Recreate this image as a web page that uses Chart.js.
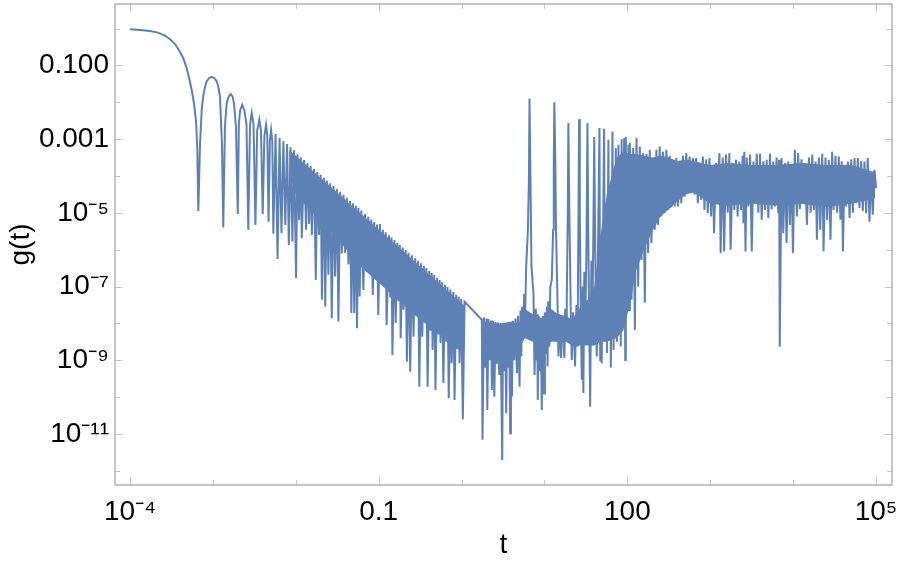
<!DOCTYPE html>
<html>
<head>
<meta charset="utf-8">
<script src="https://cdn.jsdelivr.net/npm/chart.js@4.4.1/dist/chart.umd.min.js"></script>
<style>
  html, body { margin: 0; padding: 0; background: #fff; }
  #wrap { width: 899px; height: 562px; }
</style>
</head>
<body>
<div id="wrap"><canvas id="gChart"></canvas></div>
<script>
// g(t), kept as [log10 t, log10 g] pairs

// smooth start and the first resolved oscillations
const head = [
  [-4.00,-0.02],[-3.879,-0.036],[-3.759,-0.066],[-3.662,-0.11],[-3.578,-0.19],[-3.517,-0.29],[-3.457,-0.42],
  [-3.409,-0.59],[-3.360,-0.79],[-3.318,-1.06],[-3.282,-1.39],[-3.252,-1.71],[-3.228,-2.04],[-3.203,-2.53],
  [-3.188,-3.29],[-3.176,-4.95],
  [-3.155,-3.11],[-3.135,-2.20],[-3.117,-1.84],[-3.095,-1.58],[-3.075,-1.43],[-3.045,-1.34],[-3.014,-1.31],
  [-2.984,-1.34],[-2.954,-1.43],[-2.935,-1.58],[-2.915,-1.84],[-2.891,-3.11],[-2.875,-5.40],
  [-2.855,-2.66],[-2.834,-2.02],[-2.81,-1.85],[-2.786,-1.78],[-2.762,-1.85],[-2.746,-2.02],[-2.722,-2.66],[-2.70,-5.03],
  [-2.687,-2.6],[-2.672,-2.22],[-2.646,-2.07],[-2.62,-2.22],[-2.595,-2.6],[-2.573,-5.46],
  [-2.552,-2.59],[-2.532,-2.29],[-2.51,-2.59],[-2.487,-5.33],
  [-2.466,-2.77],[-2.44,-2.47],[-2.42,-2.77],[-2.399,-5.03],
  [-2.379,-2.91],[-2.359,-2.61],[-2.344,-2.91],[-2.329,-5.24],
  [-2.313,-3.05],[-2.298,-2.75],[-2.284,-3.05],[-2.271,-5.57],
  [-2.244,-2.86],[-2.220,-6.25],[-2.196,-2.96],[-2.173,-5.55],[-2.150,-3.05],[-2.127,-5.33],
  [-2.105,-3.13],[-2.084,-5.87],[-2.063,-3.22],[-2.041,-5.78],[-2.021,-3.30],[-1.997,-6.77]
];

// dense decaying band up to t ~ 1
const decay = [
  [-1.98,-3.41],[-1.96,-5.2],[-1.94,-3.49],[-1.928,-5.69],[-1.90,-3.57],[-1.876,-5.46],[-1.86,-3.65],[-1.84,-5.3],
  [-1.82,-3.73],[-1.807,-5.60],[-1.78,-3.81],[-1.759,-6.82],[-1.74,-3.89],[-1.72,-5.6],[-1.70,-3.97],[-1.685,-7.36],
  [-1.66,-4.05],[-1.645,-7.54],[-1.625,-4.12],[-1.607,-6.68],[-1.585,-4.20],[-1.566,-7.86],[-1.545,-4.27],[-1.526,-6.73],
  [-1.505,-4.35],[-1.486,-7.95],[-1.465,-4.43],[-1.445,-6.1],[-1.425,-4.51],[-1.405,-6.09],[-1.385,-4.59],[-1.365,-6.4],
  [-1.345,-4.67],[-1.33,-7.72],[-1.31,-4.74],[-1.295,-7.72],[-1.275,-4.81],[-1.262,-8.13],[-1.245,-4.87],[-1.23,-7.27],
  [-1.21,-4.94],[-1.185,-7.09],[-1.165,-5.03],[-1.145,-6.6],[-1.125,-5.11],[-1.105,-6.55],[-1.09,-5.18],[-1.071,-7.23],
  [-1.055,-5.25],[-1.035,-6.8],[-1.02,-5.32],[-1.005,-7.77],[-0.985,-5.30],[-0.965,-6.9],[-0.95,-5.46],[-0.93,-7.0],
  [-0.915,-5.53],[-0.905,-8.04],[-0.875,-5.61],[-0.86,-7.3],[-0.845,-5.67],[-0.835,-8.86],[-0.81,-5.74],[-0.795,-7.99],
  [-0.775,-5.81],[-0.76,-7.4],[-0.745,-5.87],[-0.735,-8.40],[-0.71,-5.94],[-0.70,-7.63],[-0.675,-6.01],[-0.66,-9.04],
  [-0.64,-6.08],[-0.62,-9.31],[-0.60,-6.15],[-0.58,-8.36],[-0.56,-6.23],[-0.545,-7.8],[-0.525,-6.30],[-0.51,-9.72],
  [-0.49,-6.37],[-0.475,-8.36],[-0.455,-6.44],[-0.44,-7.9],[-0.425,-6.50],[-0.41,-9.72],[-0.39,-6.57],[-0.375,-8.2],
  [-0.36,-6.63],[-0.35,-8.72],[-0.33,-6.69],[-0.315,-9.81],[-0.295,-6.76],[-0.28,-8.3],[-0.265,-6.82],[-0.255,-8.54],
  [-0.235,-6.88],[-0.22,-9.62],[-0.20,-6.95],[-0.185,-8.5],[-0.17,-7.01],[-0.155,-10.03],[-0.135,-7.08],[-0.12,-9.08],
  [-0.10,-7.15],[-0.085,-10.08],[-0.065,-7.22],[-0.05,-8.7],[-0.035,-7.28],[-0.025,-9.08],[-0.005,-7.34],[0.015,-10.6],
  [0.036,-7.41],[0.244,-7.90]
];

// minimum region and the sharp revival peaks
const revival = [
  [0.252,-11.16],[0.27,-7.84],[0.285,-9.2],[0.30,-7.86],[0.31,-10.35],[0.325,-7.88],[0.34,-9.0],[0.355,-7.92],
  [0.365,-9.81],[0.38,-7.94],[0.395,-9.99],[0.41,-7.96],[0.425,-9.1],[0.44,-7.97],[0.455,-9.4],[0.47,-7.99],
  [0.49,-11.71],[0.50,-7.99],[0.515,-9.3],[0.525,-7.98],[0.538,-10.44],[0.55,-7.97],[0.565,-9.2],[0.575,-7.96],
  [0.586,-10.98],[0.595,-7.95],[0.607,-9.99],[0.62,-7.93],[0.635,-9.0],[0.65,-7.87],[0.667,-9.35],[0.68,-7.80],
  [0.699,-9.72],[0.71,-7.65],[0.72,-8.9],[0.73,-7.55],[0.74,-8.36],[0.755,-7.2],[0.765,-7.9],
  [0.779,-6.46],[0.80,-5.46],[0.812,-4.10],[0.819,-1.90],[0.831,-4.10],[0.843,-6.46],[0.867,-7.18],
  [0.88,-9.4],[0.895,-7.6],[0.905,-9.0],[0.912,-7.75],[0.919,-10.08],[0.93,-7.8],[0.945,-9.3],[0.955,-7.85],
  [0.967,-10.35],[0.98,-7.8],[0.995,-9.90],[1.005,-7.7],[1.02,-8.8],[1.03,-7.55],[1.037,-9.17],[1.045,-7.4],
  [1.058,-8.63],[1.07,-7.0],
  [1.088,-6.82],[1.104,-5.46],[1.112,-3.64],[1.119,-2.00],[1.131,-3.64],[1.139,-5.46],[1.155,-7.17],
  [1.168,-8.90],[1.18,-7.75],[1.20,-8.94],[1.215,-7.8],[1.24,-8.94],[1.25,-7.6],[1.26,-8.2],
  [1.269,-7.27],[1.281,-5.0],[1.288,-2.56],[1.300,-5.0],[1.317,-7.71],
  [1.329,-8.99],[1.345,-7.7],[1.369,-9.17],[1.385,-7.5],[1.395,-8.6],
  [1.403,-7.09],[1.41,-5.0],[1.417,-2.46],[1.426,-5.0],[1.436,-7.36],
  [1.45,-9.53],[1.46,-7.0],[1.469,-9.89],[1.48,-6.6],[1.49,-8.5],
  [1.506,-6.0],[1.518,-2.56],[1.530,-6.0],
  [1.551,-10.26],[1.565,-6.3],[1.575,-8.6],
  [1.587,-6.0],[1.600,-2.94],[1.612,-6.0],
  [1.631,-8.90],[1.645,-6.0],
  [1.663,-2.70],[1.672,-9.0],[1.68,-5.6],[1.69,-9.08],
  [1.719,-2.72],[1.73,-8.4],[1.745,-5.2],[1.753,-8.8],
  [1.771,-3.02],[1.78,-7.9],[1.79,-4.8],[1.80,-9.2],
  [1.82,-2.79],[1.833,-8.72],[1.845,-4.5],[1.852,-8.0],
  [1.86,-3.24],[1.875,-8.5],
  [1.892,-3.15],[1.903,-8.0],[1.914,-4.0],[1.92,-8.63],
  [1.93,-3.00],[1.945,-7.6],[1.961,-2.97],[1.974,-8.99],[1.981,-2.94],[1.995,-7.2],[2.013,-3.15],[2.02,-7.64]
];

// noisy plateau out to t = 10^5
const plateau = [
  [2.03,-3.10],[2.05,-7.36],[2.07,-3.24],[2.09,-8.18],[2.11,-2.97],[2.13,-7.00],[2.15,-3.20],[2.17,-6.28],
  [2.19,-3.38],[2.21,-7.44],[2.23,-3.40],[2.25,-6.09],[2.27,-3.29],[2.29,-5.82],[2.31,-3.56],[2.33,-5.46],
  [2.35,-3.29],[2.37,-5.33],[2.39,-3.20],[2.41,-5.10],[2.43,-3.34],[2.45,-5.00],[2.47,-3.29],[2.49,-4.92],
  [2.51,-3.45],[2.53,-4.85],[2.55,-3.56],[2.57,-4.83],[2.59,-3.51],[2.61,-4.83],[2.63,-3.61],[2.65,-4.74],
  [2.67,-3.45],[2.69,-4.56],[2.71,-3.38],[2.73,-4.37],[2.75,-3.47],[2.77,-4.45],[2.79,-3.51],[2.81,-4.51],
  [2.83,-3.51],[2.85,-4.74],[2.87,-3.83],[2.89,-4.65],[2.91,-3.47],[2.93,-4.92],[2.95,-3.55],[2.97,-5.01],
  [2.99,-3.51],[3.01,-5.10],[3.03,-3.70],[3.045,-5.55],[3.07,-3.65],[3.09,-4.65],[3.11,-3.38],[3.125,-6.09],
  [3.15,-3.50],[3.167,-6.05],[3.19,-3.42],[3.21,-5.00],[3.23,-3.38],[3.245,-6.00],[3.27,-3.65],[3.29,-4.92],
  [3.31,-3.56],[3.33,-5.10],[3.35,-3.61],[3.37,-4.92],[3.39,-3.45],[3.40,-5.28],[3.41,-3.34],[3.425,-6.05],
  [3.44,-3.50],[3.46,-4.83],[3.48,-3.42],[3.50,-6.05],[3.52,-3.61],[3.54,-4.56],[3.56,-3.40],[3.58,-5.00],
  [3.60,-3.40],[3.62,-5.19],[3.64,-3.60],[3.66,-4.92],[3.68,-3.56],[3.70,-5.14],[3.72,-3.40],[3.74,-4.90],
  [3.76,-3.61],[3.78,-4.83],[3.80,-3.50],[3.82,-5.01],[3.83,-3.56],[3.838,-8.63],[3.86,-3.51],[3.88,-5.55],
  [3.90,-3.65],[3.92,-5.82],[3.94,-3.61],[3.96,-5.33],[3.98,-3.79],[3.997,-6.09],[4.02,-3.29],[4.045,-5.10],
  [4.06,-3.38],[4.08,-4.90],[4.10,-3.55],[4.12,-4.74],[4.14,-3.65],[4.166,-5.33],[4.19,-3.50],[4.21,-5.00],
  [4.23,-3.42],[4.25,-4.92],[4.27,-3.61],[4.286,-5.73],[4.31,-3.50],[4.326,-5.46],[4.35,-3.40],[4.366,-6.05],
  [4.39,-3.50],[4.41,-5.20],[4.43,-3.56],[4.45,-5.73],[4.47,-3.34],[4.487,-4.92],[4.51,-3.45],[4.53,-5.00],
  [4.55,-3.47],[4.57,-5.19],[4.585,-3.60],[4.60,-6.05],[4.62,-3.79],[4.635,-4.83],[4.66,-3.61],[4.68,-5.14],
  [4.70,-3.55],[4.72,-5.00],[4.74,-3.51],[4.76,-4.74],[4.78,-3.51],[4.80,-4.87],[4.82,-3.60],[4.84,-4.95],
  [4.86,-3.61],[4.88,-5.01],[4.90,-3.51],[4.92,-5.24],[4.94,-3.92],[4.96,-5.05],[4.98,-3.83],[5.00,-4.33]
];

// where the oscillation is too fast to resolve the curve reads as a solid band:
// [log10 t, log10 g at top of band, log10 g at bottom of band]
const decayBand = [
  [-2.08,-3.30,-3.9],[-2.0,-3.45,-4.5],[-1.8,-3.85,-5.0],[-1.5,-4.45,-5.7],[-1.2,-5.05,-6.5],
  [-1.0,-5.45,-6.9],[-0.75,-5.95,-7.4],[-0.5,-6.45,-7.9],[-0.25,-6.95,-8.3],[0.0,-7.45,-8.7],[0.03,-7.50,-8.7]
];
const lateBand = [
  [0.25,-7.95,-8.6],[0.4,-8.0,-8.9],[0.55,-8.05,-8.9],[0.70,-7.95,-8.7],[0.76,-7.6,-8.4],
  [0.86,-7.75,-8.5],[1.0,-7.9,-8.7],[1.08,-7.6,-8.5],[1.16,-7.75,-8.5],[1.26,-7.8,-8.5],[1.33,-7.9,-8.6],
  [1.45,-7.5,-8.6],[1.55,-7.3,-8.6],[1.60,-7.0,-8.6],[1.67,-5.7,-8.5],[1.75,-4.5,-8.5],[1.87,-3.5,-8.4],
  [1.95,-3.35,-8.2],[2.05,-3.4,-7.3],[2.1,-3.4,-6.6],[2.2,-3.45,-6.0],[2.3,-3.5,-5.5],[2.4,-3.45,-5.1],
  [2.5,-3.5,-4.9],[2.6,-3.6,-4.7],[2.7,-3.55,-4.5],[2.8,-3.6,-4.45],[2.9,-3.65,-4.6],[3.0,-3.7,-4.75],
  [3.2,-3.65,-4.8],[3.5,-3.7,-4.75],[3.8,-3.7,-4.8],[4.1,-3.65,-4.75],[4.4,-3.7,-4.85],[4.7,-3.7,-4.75],
  [4.99,-3.9,-4.6]
];

// ticks: one per decade, labels only on some of them
const xDecades = [-4, -3, -2, -1, 0, 1, 2, 3, 4, 5];
const yDecades = [0, -1, -2, -3, -4, -5, -6, -7, -8, -9, -10, -11, -12];
const xLabelExps = [-4, -1, 2, 5];
const xLabelText = ['10⁻⁴', '0.1', '100', '10⁵'];
const yLabelExps = [-1, -3, -5, -7, -9, -11];
const yLabelText = ['0.100', '0.001', '10⁻⁵', '10⁻⁷', '10⁻⁹', '10⁻¹¹'];

const lineColor = '#5e81b5';
const labelFont = { family: "'Liberation Sans', Arial, sans-serif", size: 28 };

const toPoint = (lt, lg) => ({ x: 10 ** lt, y: 10 ** lg });
const points = [].concat(head, decay, revival, plateau).map(p => toPoint(p[0], p[1]));

// two edge datasets per band, the upper one filled down to the lower one
function bandDatasets(band) {
    const edge = { borderWidth: 0, pointRadius: 0, tension: 0, backgroundColor: lineColor, borderColor: lineColor };
    return [
        Object.assign({ data: band.map(b => toPoint(b[0], b[1])), fill: '+1' }, edge),
        Object.assign({ data: band.map(b => toPoint(b[0], b[2])), fill: false }, edge)
    ];
}

function labelFor(value, exps, texts) {
    const e = Math.round(Math.log10(value));
    const i = exps.indexOf(e);
    return i >= 0 ? texts[i] : '';
}

// Mathematica-like frame with small inward ticks on all four sides
const framePlugin = {
    id: 'frame',
    afterDraw(chart) {
        const { ctx, chartArea: a, scales } = chart;
        ctx.save();
        ctx.strokeStyle = '#c6c6c6';
        ctx.lineWidth = 1;
        ctx.beginPath();
        xDecades.forEach(e => {
            const px = Math.round(scales.x.getPixelForValue(10 ** e)) + 0.5;
            const len = xLabelExps.includes(e) ? 7.5 : 5;
            ctx.moveTo(px, a.bottom); ctx.lineTo(px, a.bottom - len);
            ctx.moveTo(px, a.top); ctx.lineTo(px, a.top + len);
        });
        yDecades.forEach(e => {
            const py = Math.round(scales.y.getPixelForValue(10 ** e)) + 0.5;
            const len = yLabelExps.includes(e) ? 7.5 : 5;
            ctx.moveTo(a.left, py); ctx.lineTo(a.left + len, py);
            ctx.moveTo(a.right, py); ctx.lineTo(a.right - len, py);
        });
        ctx.stroke();
        ctx.strokeStyle = '#a8a8a8';
        ctx.lineWidth = 1.3;
        ctx.strokeRect(a.left, a.top, a.right - a.left, a.bottom - a.top);
        ctx.restore();
    }
};

const ctx = document.getElementById('gChart').getContext('2d');
window.gChart = new Chart(ctx, {
    type: 'line',
    data: {
        datasets: [{
            label: 'g(t)',
            data: points,
            borderColor: lineColor,
            borderWidth: 2,
            pointRadius: 0,
            tension: 0,
            fill: false
        }].concat(bandDatasets(decayBand), bandDatasets(lateBand))
    },
    options: {
        responsive: true,
        maintainAspectRatio: false,
        animation: false,
        devicePixelRatio: 1,
        parsing: false,
        layout: { padding: { left: 0, right: 7, top: 4, bottom: 0 } },
        plugins: {
            legend: { display: false },
            tooltip: { enabled: false }
        },
        scales: {
            x: {
                type: 'logarithmic',
                bounds: 'data',
                min: 6.59e-5,
                max: 1.556e5,
                grid: { display: false, drawTicks: false },
                border: { display: false },
                afterBuildTicks: s => { s.ticks = xDecades.map(e => ({ value: 10 ** e })); },
                afterFit: s => { s.height = 77; s.paddingLeft = 0; s.paddingRight = 0; },
                ticks: {
                    autoSkip: false,
                    maxRotation: 0,
                    padding: 10,
                    color: '#000',
                    font: labelFont,
                    callback: v => labelFor(v, xLabelExps, xLabelText)
                },
                title: { display: true, text: 't', color: '#000', font: labelFont, padding: { top: 0, bottom: 0 } }
            },
            y: {
                type: 'logarithmic',
                bounds: 'data',
                min: 4.12e-13,
                max: 4.645,
                grid: { display: false, drawTicks: false },
                border: { display: false },
                afterBuildTicks: s => { s.ticks = yDecades.map(e => ({ value: 10 ** e })); },
                afterFit: s => { s.width = 115; s.paddingTop = 0; s.paddingBottom = 0; },
                ticks: {
                    autoSkip: false,
                    padding: 6,
                    color: '#000',
                    font: labelFont,
                    callback: v => labelFor(v, yLabelExps, yLabelText)
                },
                title: { display: true, text: 'g(t)', color: '#000', font: labelFont, padding: { top: 4, bottom: 0 } }
            }
        }
    },
    plugins: [framePlugin]
});
</script>
</body>
</html>
